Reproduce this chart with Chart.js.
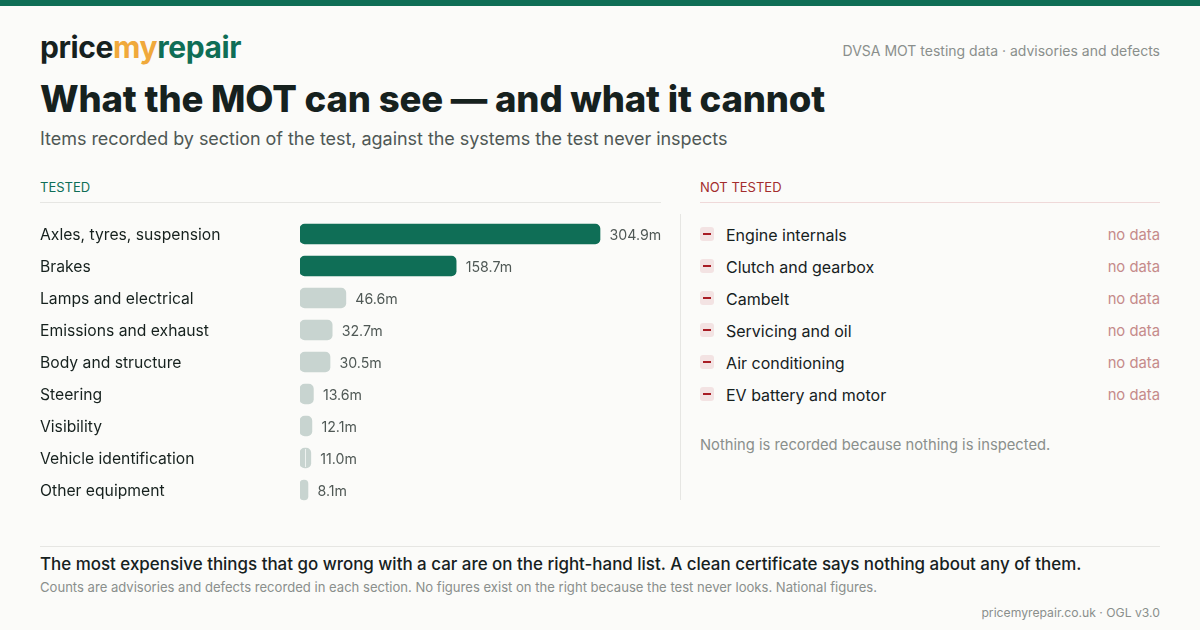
<!DOCTYPE html>
<html lang="en">
<head>
<meta charset="utf-8">
<title>What the MOT can see</title>
<script src="https://cdn.jsdelivr.net/npm/chart.js@4/dist/chart.umd.min.js"></script>
<style>
  html, body { margin: 0; padding: 0; }
  body { width: 1200px; height: 630px; overflow: hidden; position: relative; background: #fbfbf9; font-family: Inter, sans-serif; color: #16211e; }
  .t { position: absolute; white-space: nowrap; line-height: 1; }
  .rule { position: absolute; height: 1px; }
  #topbar { position: absolute; left: 0; top: 0; width: 1200px; height: 6px; background: #0f6e56; }
  #logo { left: 40px; top: 32px; font-size: 30px; font-weight: 700; letter-spacing: -0.4px; }
  #logo .my { color: #f0a93b; }
  #logo .repair { color: #0f6e56; }
  #source { right: 40px; top: 44px; font-size: 14px; color: #8a8f8c; }
  #title { left: 40px; top: 81px; font-size: 36.5px; font-weight: 800; letter-spacing: -0.15px; }
  #subtitle { left: 40px; top: 130px; font-size: 18px; letter-spacing: -0.04px; color: #4f5855; }
  #tested { left: 40px; top: 181px; font-size: 13px; color: #0f6e56; }
  #nottested { left: 700px; top: 181px; font-size: 13px; color: #a32d2d; }
  #divider { position: absolute; left: 680px; top: 214px; width: 1px; height: 286px; background: #e6e6e3; }
  #chartBox { position: absolute; left: 40px; top: 218px; width: 621px; height: 288px; }
  .row-icon { position: absolute; left: 700px; width: 14px; height: 14px; border-radius: 3px; background: #f3e3e3; }
  .row-icon::after { content: ""; position: absolute; left: 3px; top: 6px; width: 8px; height: 2px; background: #a81c24; }
  .row-name { left: 726px; font-size: 16px; color: #16211e; }
  .row-nodata { right: 40px; font-size: 14.8px; color: #c58a8a; }
  #note { left: 700px; top: 438px; font-size: 14.75px; color: #8a8f8c; }
  #takeaway { left: 40px; top: 556px; font-size: 16.93px; font-weight: 500; }
  #footnote { left: 40px; top: 581px; font-size: 13.08px; color: #8a8f8c; }
  #credit { right: 40px; top: 607px; font-size: 12.2px; color: #8a8f8c; }
</style>
</head>
<body>
<div id="topbar"></div>
<div class="t" id="logo">price<span class="my">my</span><span class="repair">repair</span></div>
<div class="t" id="source">DVSA MOT testing data · advisories and defects</div>
<div class="t" id="title">What the MOT can see — and what it cannot</div>
<div class="t" id="subtitle">Items recorded by section of the test, against the systems the test never inspects</div>

<div class="t" id="tested">TESTED</div>
<div class="rule" style="left:40px;top:202px;width:621px;background:#e6e6e3"></div>
<div class="t" id="nottested">NOT TESTED</div>
<div class="rule" style="left:700px;top:202px;width:460px;background:#efd9d9"></div>
<div id="divider"></div>

<div id="chartBox"><canvas id="chart"></canvas></div>
<div id="rightList"></div>
<div class="t" id="note">Nothing is recorded because nothing is inspected.</div>

<div class="rule" style="left:40px;top:546px;width:1120px;background:#e6e6e3"></div>
<div class="t" id="takeaway">The most expensive things that go wrong with a car are on the right-hand list. A clean certificate says nothing about any of them.</div>
<div class="t" id="footnote">Counts are advisories and defects recorded in each section. No figures exist on the right because the test never looks. National figures.</div>
<div class="t" id="credit">pricemyrepair.co.uk · OGL v3.0</div>

<script>
const sections = ['Axles, tyres, suspension', 'Brakes', 'Lamps and electrical', 'Emissions and exhaust', 'Body and structure', 'Steering', 'Visibility', 'Vehicle identification', 'Other equipment'];
const itemsMillions = [304.9, 158.7, 46.6, 32.7, 30.5, 13.6, 12.1, 11.0, 8.1];
const notTested = ['Engine internals', 'Clutch and gearbox', 'Cambelt', 'Servicing and oil', 'Air conditioning', 'EV battery and motor'];

const GREEN = '#0f6e56';
const GREY = '#c8d4d0';

// value labels sit just past the end of each bar
const valueLabels = {
  id: 'valueLabels',
  afterDatasetsDraw(chart) {
    const ctx = chart.ctx;
    const meta = chart.getDatasetMeta(0);
    ctx.save();
    ctx.font = '14.2px Inter';
    ctx.fillStyle = '#4f5855';
    ctx.textBaseline = 'middle';
    meta.data.forEach((bar, i) => {
      ctx.fillText(itemsMillions[i].toFixed(1) + 'm', bar.x + 9.5, bar.y + 2);
    });
    // the reference shows a faint hairline down the middle of this one bar
    const seam = meta.data[sections.indexOf('Vehicle identification')];
    ctx.fillStyle = '#eef2f0';
    ctx.fillRect(Math.floor((seam.base + seam.x) / 2), seam.y - 9, 1, 18);
    ctx.restore();
  }
};

new Chart(document.getElementById('chart'), {
  type: 'bar',
  data: {
    labels: sections,
    datasets: [{
      data: itemsMillions,
      backgroundColor: itemsMillions.map((v, i) => i < 2 ? GREEN : GREY),
      borderRadius: 5,
      borderSkipped: false,
      barThickness: 20
    }]
  },
  options: {
    indexAxis: 'y',
    responsive: true,
    maintainAspectRatio: false,
    animation: false,
    layout: { padding: 0 },
    plugins: { legend: { display: false }, tooltip: { enabled: false } },
    scales: {
      x: { display: false, min: 0, max: 366.9 },
      y: {
        // fixed gutter for the labels, and no label overhang so rows stay 32px
        afterFit(axis) { axis.width = 260; axis.paddingTop = 0; axis.paddingBottom = 0; },
        grid: { display: false },
        border: { display: false },
        ticks: {
          crossAlign: 'far',
          padding: 0,
          labelOffset: 1,
          color: '#16211e',
          font: { family: 'Inter', size: 15.7 }
        }
      }
    }
  },
  plugins: [valueLabels]
});

// right-hand list, same 32px rhythm as the bars
const list = document.getElementById('rightList');
notTested.forEach((name, i) => {
  const y = 234 + i * 32;
  list.insertAdjacentHTML('beforeend',
    `<div class="row-icon" style="top:${y - 7}px"></div>` +
    `<div class="t row-name" style="top:${y - 7}px">${name}</div>` +
    `<div class="t row-nodata" style="top:${y - 6}px">no data</div>`);
});
</script>
</body>
</html>
